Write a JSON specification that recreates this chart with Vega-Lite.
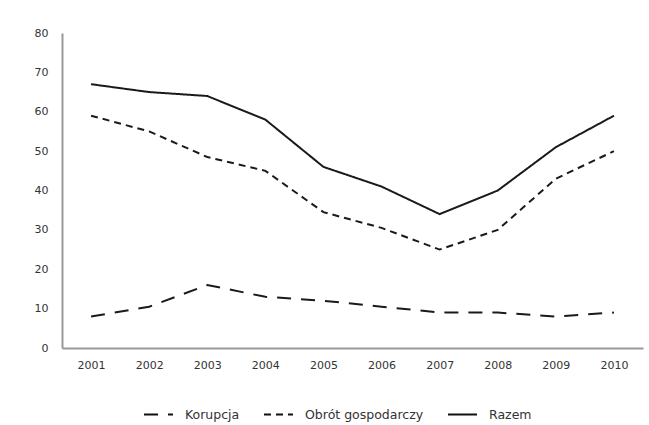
{
  "$schema": "https://vega.github.io/schema/vega-lite/v6.json",
  "width": 581,
  "height": 315,
  "autosize": {"type": "none"},
  "padding": {"left": 62, "top": 33, "right": 6, "bottom": 77},
  "background": "white",
  "config": {"view": {"stroke": null}, "font": "DejaVu Sans"},
  "data": {
    "values": [
      {"rok": "2001", "seria": "Razem", "wartosc": 67},
      {"rok": "2002", "seria": "Razem", "wartosc": 65},
      {"rok": "2003", "seria": "Razem", "wartosc": 64},
      {"rok": "2004", "seria": "Razem", "wartosc": 58},
      {"rok": "2005", "seria": "Razem", "wartosc": 46},
      {"rok": "2006", "seria": "Razem", "wartosc": 41},
      {"rok": "2007", "seria": "Razem", "wartosc": 34},
      {"rok": "2008", "seria": "Razem", "wartosc": 40},
      {"rok": "2009", "seria": "Razem", "wartosc": 51},
      {"rok": "2010", "seria": "Razem", "wartosc": 59},
      {"rok": "2001", "seria": "Obrót gospodarczy", "wartosc": 59},
      {"rok": "2002", "seria": "Obrót gospodarczy", "wartosc": 55},
      {"rok": "2003", "seria": "Obrót gospodarczy", "wartosc": 48.5},
      {"rok": "2004", "seria": "Obrót gospodarczy", "wartosc": 45},
      {"rok": "2005", "seria": "Obrót gospodarczy", "wartosc": 34.5},
      {"rok": "2006", "seria": "Obrót gospodarczy", "wartosc": 30.5},
      {"rok": "2007", "seria": "Obrót gospodarczy", "wartosc": 25},
      {"rok": "2008", "seria": "Obrót gospodarczy", "wartosc": 30},
      {"rok": "2009", "seria": "Obrót gospodarczy", "wartosc": 43},
      {"rok": "2010", "seria": "Obrót gospodarczy", "wartosc": 50},
      {"rok": "2001", "seria": "Korupcja", "wartosc": 8},
      {"rok": "2002", "seria": "Korupcja", "wartosc": 10.5},
      {"rok": "2003", "seria": "Korupcja", "wartosc": 16},
      {"rok": "2004", "seria": "Korupcja", "wartosc": 13},
      {"rok": "2005", "seria": "Korupcja", "wartosc": 12},
      {"rok": "2006", "seria": "Korupcja", "wartosc": 10.5},
      {"rok": "2007", "seria": "Korupcja", "wartosc": 9},
      {"rok": "2008", "seria": "Korupcja", "wartosc": 9},
      {"rok": "2009", "seria": "Korupcja", "wartosc": 8},
      {"rok": "2010", "seria": "Korupcja", "wartosc": 9}
    ]
  },
  "mark": {"type": "line", "strokeWidth": 2, "color": "#1a1a1a"},
  "encoding": {
    "x": {
      "field": "rok",
      "type": "ordinal",
      "scale": {"type": "point", "padding": 0.5},
      "axis": {
        "title": null,
        "labelAngle": 0,
        "ticks": false,
        "domainColor": "#999999",
        "domainWidth": 2,
        "labelColor": "#333333",
        "labelFontSize": 11,
        "labelPadding": 11
      }
    },
    "y": {
      "field": "wartosc",
      "type": "quantitative",
      "scale": {"domain": [0, 80]},
      "axis": {
        "title": null,
        "grid": false,
        "ticks": false,
        "values": [0, 10, 20, 30, 40, 50, 60, 70, 80],
        "domainColor": "#999999",
        "domainWidth": 2,
        "labelColor": "#333333",
        "labelFontSize": 11,
        "labelPadding": 14
      }
    },
    "strokeDash": {
      "field": "seria",
      "type": "nominal",
      "scale": {
        "domain": ["Korupcja", "Obrót gospodarczy", "Razem"],
        "range": [[14, 10], [7, 5], [1, 0]]
      },
      "legend": {
        "title": null,
        "orient": "none",
        "legendX": 81,
        "legendY": 366,
        "direction": "horizontal",
        "symbolType": "stroke",
        "symbolSize": 841,
        "symbolStrokeWidth": 2,
        "symbolStrokeColor": "#111111",
        "labelFontSize": 12.5,
        "labelColor": "#333333",
        "labelOffset": 11,
        "columnPadding": 20
      }
    }
  }
}
